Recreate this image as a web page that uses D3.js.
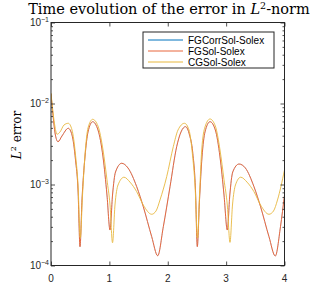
<!DOCTYPE html>
<html>
<head>
<meta charset="utf-8">
<script src="https://cdn.jsdelivr.net/npm/d3@7"></script>
<style>
  body { margin: 0; background: #fff; }
  svg { display: block; }
</style>
</head>
<body>
<div id="chart"></div>
<script>
// values (time, L2 error)
var tFG = [0, 0.034, 0.069, 0.12, 0.188, 0.296, 0.36, 0.42, 0.463, 0.497, 0.531, 0.582, 0.634, 0.714, 0.805, 0.891, 0.959, 1.011, 1.054, 1.105,
  1.211, 1.319, 1.468, 1.581, 1.725, 1.828, 1.924, 2.039, 2.153, 2.227, 2.304, 2.373, 2.427, 2.475, 2.506, 2.544, 2.587, 2.638, 2.724, 2.815,
  2.895, 2.964, 3.02, 3.063, 3.114, 3.221, 3.329, 3.477, 3.59, 3.734, 3.842, 3.931, 4.0];
var fgErr = [0.01309, 0.00721, 0.004325, 0.003373, 0.003972, 0.004943, 0.004083, 0.002004, 0.000855, 0.0001706, 0.000644, 0.002188, 0.004446, 0.005957, 0.00471, 0.002188, 0.000741, 0.000274, 0.000741, 0.001426,
  0.001828, 0.0016, 0.00094, 0.000532, 0.000227, 0.000132, 0.000301, 0.00094, 0.00293, 0.00445, 0.00518, 0.00408, 0.00252, 0.000855, 0.000171, 0.000644, 0.00219, 0.00445, 0.00596, 0.00471,
  0.00219, 0.000741, 0.000274, 0.000741, 0.00143, 0.00179, 0.0016, 0.00094, 0.000532, 0.000227, 0.000131, 0.000301, 0.000741];
// FGCorrSol lies under FGSol everywhere in the picture
var fgCorrErr = fgErr.slice();

var tCG = [0, 0.034, 0.069, 0.103, 0.154, 0.223, 0.296, 0.36, 0.42, 0.463, 0.502, 0.54, 0.582, 0.634, 0.714, 0.805, 0.891, 0.959, 1.011, 1.054,
  1.096, 1.148, 1.251, 1.353, 1.468, 1.581, 1.725, 1.799, 1.867, 1.982, 2.095, 2.176, 2.287, 2.364, 2.424, 2.467, 2.51, 2.544, 2.582, 2.638,
  2.724, 2.815, 2.895, 2.964, 3.02, 3.066, 3.109, 3.16, 3.25, 3.358, 3.477, 3.59, 3.734, 3.812, 3.88, 4.0];
var cgErr = [0.01349, 0.00785, 0.00513, 0.00417, 0.00445, 0.00543, 0.0057, 0.00471, 0.00231, 0.000986, 0.000219, 0.000741, 0.00231, 0.00499, 0.00638, 0.00527, 0.00267, 0.00114, 0.000558, 0.000191,
  0.000558, 0.000986, 0.00123, 0.00107, 0.000815, 0.000558, 0.000429, 0.000471, 0.000644, 0.00125, 0.00293, 0.00471, 0.0057, 0.00471, 0.00231, 0.000986, 0.000219, 0.000741, 0.00267, 0.00513,
  0.00644, 0.00527, 0.00267, 0.00114, 0.000558, 0.000193, 0.000558, 0.000986, 0.00123, 0.00107, 0.000815, 0.000558, 0.000429, 0.000471, 0.000644, 0.00151];

var seriesNames = ["FGCorrSol-Solex", "FGSol-Solex", "CGSol-Solex"];
var seriesColors = ["#0072BD", "#E8663C", "#E8B83E"];
var xTicks = [0, 1, 2, 3, 4];
var yTicks = [1e-4, 1e-3, 1e-2, 1e-1];
var yTickExp = ["-4", "-3", "-2", "-1"];

var W = 316, H = 300;
var pL = 51, pR = 284.5, pT = 22.5, pB = 265.5;

var svg = d3.select("#chart").append("svg").attr("width", W).attr("height", H);

var x = d3.scaleLinear().domain([0, 4]).range([pL, pR]);
var y = d3.scaleLog().domain([1e-4, 1e-1]).range([pB, pT]);

// clip for the curves
svg.append("clipPath").attr("id", "clip")
  .append("rect").attr("x", pL).attr("y", pT).attr("width", pR - pL).attr("height", pB - pT);

var series = [
  { name: seriesNames[0], color: seriesColors[0], t: tFG, v: fgCorrErr, w: 0.25 },
  { name: seriesNames[1], color: seriesColors[1], t: tFG, v: fgErr, w: 1 },
  { name: seriesNames[2], color: seriesColors[2], t: tCG, v: cgErr, w: 0.9 }
];

var line = d3.line()
  .x(function(d){ return x(d[0]); })
  .y(function(d){ return y(d[1]); })
  .curve(d3.curveMonotoneX);

var plot = svg.append("g").attr("clip-path", "url(#clip)");
series.forEach(function(s){
  plot.append("path")
    .datum(d3.zip(s.t, s.v))
    .attr("d", line)
    .attr("fill", "none")
    .attr("stroke", s.color)
    .attr("stroke-width", s.w);
});

// ticks (inward, on all four sides)
var axisCol = "#262626";
var minorY = [];
for (var e = -4; e < -1; e++) for (var m = 2; m <= 9; m++) minorY.push(m * Math.pow(10, e));

svg.append("g")
  .attr("transform", "translate(" + pL + ",0)")
  .call(d3.axisLeft(y).tickValues(yTicks).tickSize(-4).tickFormat(""));
svg.append("g")
  .attr("transform", "translate(" + pL + ",0)")
  .call(d3.axisLeft(y).tickValues(minorY).tickSize(-2).tickFormat(""));
svg.append("g")
  .attr("transform", "translate(" + pR + ",0)")
  .call(d3.axisRight(y).tickValues(yTicks).tickSize(-4).tickFormat(""));
svg.append("g")
  .attr("transform", "translate(" + pR + ",0)")
  .call(d3.axisRight(y).tickValues(minorY).tickSize(-2).tickFormat(""));
svg.append("g")
  .attr("transform", "translate(0," + pB + ")")
  .call(d3.axisBottom(x).tickValues(xTicks).tickSize(-4).tickFormat(""));
svg.append("g")
  .attr("transform", "translate(0," + pT + ")")
  .call(d3.axisTop(x).tickValues(xTicks).tickSize(-4).tickFormat(""));
svg.selectAll(".domain").remove();
svg.selectAll(".tick line").attr("stroke", axisCol).attr("stroke-width", 0.8);

svg.append("rect")
  .attr("x", pL).attr("y", pT)
  .attr("width", pR - pL).attr("height", pB - pT)
  .attr("fill", "none").attr("stroke", axisCol).attr("stroke-width", 1);

// tick labels
svg.append("g").selectAll("text").data(xTicks).enter().append("text")
  .attr("x", function(d){ return x(d); })
  .attr("y", pB + 16)
  .attr("text-anchor", "middle")
  .attr("font-family", "Liberation Sans, Arial, sans-serif")
  .attr("font-size", 10)
  .attr("fill", axisCol)
  .text(function(d){ return d; });

var yl = svg.append("g").selectAll("text").data(yTicks).enter().append("text")
  .attr("x", 49)
  .attr("y", function(d){ return y(d) + 3; })
  .attr("text-anchor", "end")
  .attr("font-family", "Liberation Sans, Arial, sans-serif")
  .attr("font-size", 10)
  .attr("fill", axisCol);
yl.append("tspan").text("10");
yl.append("tspan").attr("dy", -4).attr("font-size", 7)
  .text(function(d, i){ return "\u2212" + yTickExp[i].slice(1); });

// y label
var ylab = svg.append("text")
  .attr("transform", "translate(21,135) rotate(-90)")
  .attr("text-anchor", "middle")
  .attr("font-family", "DejaVu Serif, Liberation Serif, serif")
  .attr("font-size", 12)
  .attr("fill", "#000");
ylab.append("tspan").attr("font-style", "italic").text("L");
ylab.append("tspan").attr("dy", -5).attr("font-size", 8).text("2");
ylab.append("tspan").attr("dy", 5).text(" error");

// title
var title = svg.append("text")
  .attr("x", 169).attr("y", 14)
  .attr("text-anchor", "middle")
  .attr("font-family", "DejaVu Serif, Liberation Serif, serif")
  .attr("font-size", 14.5)
  .attr("fill", "#000");
title.append("tspan").text("Time evolution of the error in ");
title.append("tspan").attr("font-style", "italic").text("L");
title.append("tspan").attr("dy", -5).attr("font-size", 9.5).text("2");
title.append("tspan").attr("dy", 5).text("-norm");

// legend
var lg = svg.append("g").attr("transform", "translate(143,32)");
lg.append("rect").attr("width", 131).attr("height", 36)
  .attr("fill", "#fff").attr("stroke", axisCol).attr("stroke-width", 1);
series.forEach(function(s, i){
  var yy = 8 + i * 11;
  lg.append("line").attr("x1", 5).attr("x2", 40).attr("y1", yy).attr("y2", yy)
    .attr("stroke", s.color).attr("stroke-width", 1);
  lg.append("text").attr("x", 45).attr("y", yy + 3.5)
    .attr("font-family", "Liberation Sans, Arial, sans-serif")
    .attr("font-size", 10)
    .attr("fill", "#000")
    .text(s.name);
});
</script>
</body>
</html>
